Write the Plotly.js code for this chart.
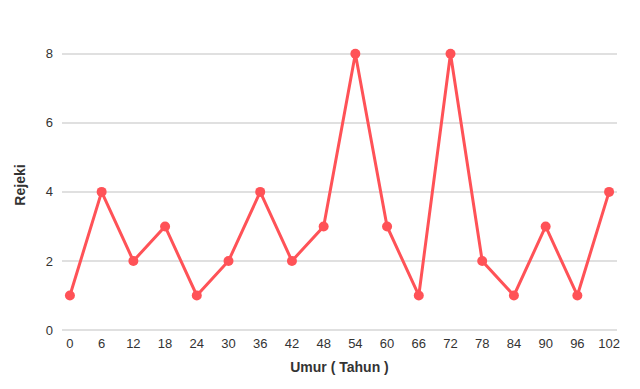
<!DOCTYPE html>
<html>
<head>
<meta charset="utf-8">
<script src="https://cdn.plot.ly/plotly-3.0.1.min.js"></script>
<style>html,body{margin:0;padding:0;background:#fff;}#chart{width:640px;height:389px;}</style>
</head>
<body>
<div id="chart"></div>
<script>
const umur = [0, 6, 12, 18, 24, 30, 36, 42, 48, 54, 60, 66, 72, 78, 84, 90, 96, 102];
const rejeki = [1, 4, 2, 3, 1, 2, 4, 2, 3, 8, 3, 1, 8, 2, 1, 3, 1, 4];
const tickLabels = umur.map(String);

const trace = {
  x: umur, y: rejeki, type: 'scatter', mode: 'lines+markers',
  line: {color: '#ff5257', width: 3},
  marker: {color: '#ff5257', size: 10},
  hoverinfo: 'none'
};
const layout = {
  width: 640, height: 389,
  margin: {l: 62, r: 23, t: 40, b: 59},
  paper_bgcolor: '#fff', plot_bgcolor: '#fff',
  font: {family: 'Liberation Sans, Arial, sans-serif', size: 13, color: '#333'},
  showlegend: false,
  xaxis: {
    range: [-1.5, 103.5], tickvals: umur, ticktext: tickLabels,
    showgrid: false, zeroline: false, showline: false, ticks: '',
    ticklabelstandoff: 4,
    tickfont: {size: 13, color: '#333'},
    title: {text: '<b>Umur ( Tahun )</b>', font: {size: 14, color: '#333'}, standoff: 12}
  },
  yaxis: {
    range: [0, 8.4], tickvals: [0, 2, 4, 6, 8],
    showgrid: true, gridcolor: '#e0e0e0', gridwidth: 1.5,
    zeroline: true, zerolinecolor: '#e0e0e0', zerolinewidth: 1.5,
    showline: false, ticks: '', ticklabelstandoff: 8,
    tickfont: {size: 13, color: '#333'},
    title: {text: '<b>Rejeki</b>', font: {size: 14, color: '#333'}, standoff: 16}
  }
};
Plotly.newPlot('chart', [trace], layout, {displayModeBar: false, staticPlot: true});
</script>
</body>
</html>
